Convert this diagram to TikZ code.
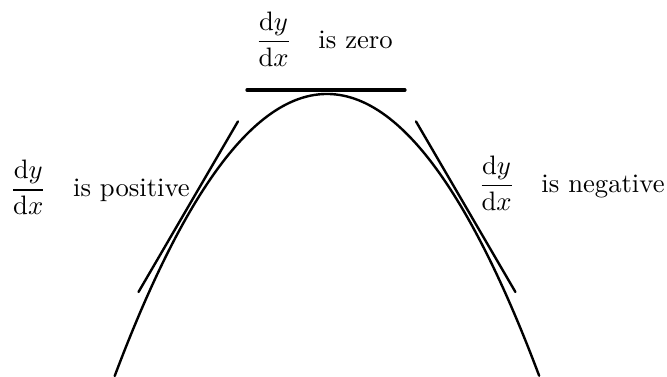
\documentclass[tikz,border=0pt]{standalone}
\usepackage{amsmath}
\usepackage{tikz}

\begin{document}
\begin{tikzpicture}[
  line cap=round,
  curve/.style={line width=0.9pt},
  tang/.style={line width=0.9pt},
  flat/.style={line width=1.2pt},
  lbl/.style={inner sep=0pt, anchor=base west, font=\normalsize}
]
\useasboundingbox (0,0) rectangle (8.788,-4.954);

%========== the hump y = yv - kp (x - xv)^2 ==========
\def\xv{4.308}\def\yv{-1.238}\def\kp{0.475}\def\hw{2.797}
\draw[curve, domain=-\hw:\hw, samples=120] plot ({\xv+\x}, {\yv-\kp*\x*\x});

%========== tangent lines ==========
\draw[tang] (1.825,-3.847) -- (3.135,-1.600);   % rising side
\draw[flat] (3.254,-1.186) -- (5.336,-1.186);   % at the top
\draw[tang] (5.481,-1.600) -- (6.791,-3.847);   % falling side

%========== labels ==========
\node[lbl] (zero) at (3.357,-0.637) {$\dfrac{\mathrm{d}y}{\mathrm{d}x}$\quad is zero};
\node[lbl] (pos)  at (0.125,-2.591) {$\dfrac{\mathrm{d}y}{\mathrm{d}x}$\quad is positive};
\node[lbl] (neg)  at (6.295,-2.534) {$\dfrac{\mathrm{d}y}{\mathrm{d}x}$\quad is negative};
\end{tikzpicture}
\end{document}
